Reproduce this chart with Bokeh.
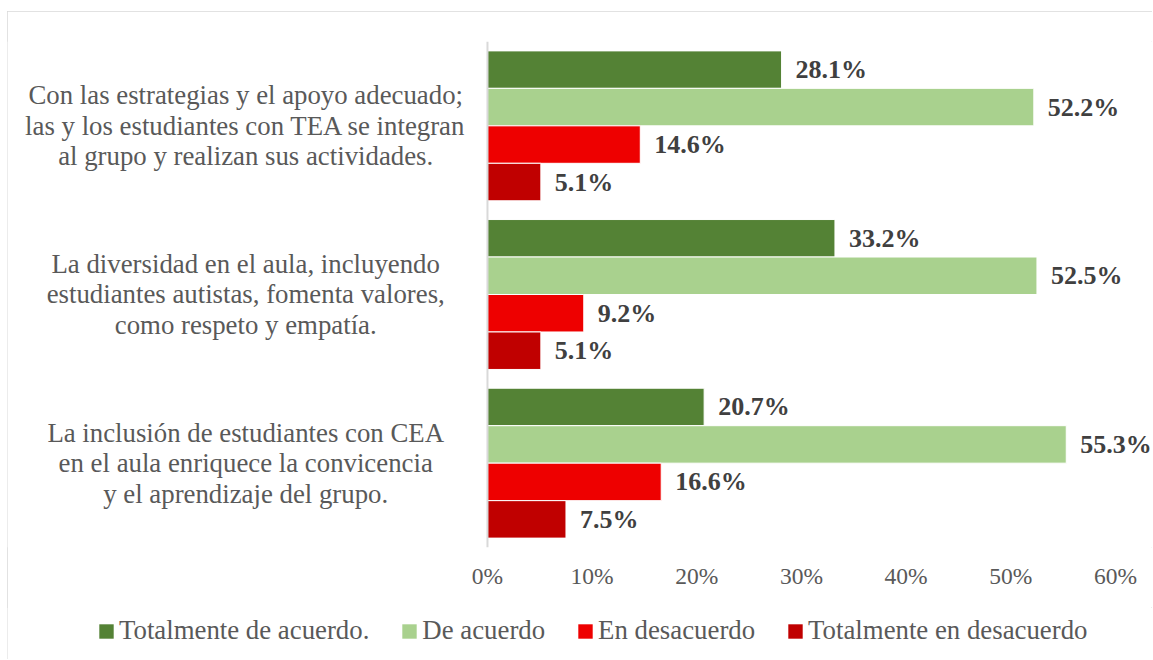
from bokeh.plotting import figure
from bokeh.layouts import column
from bokeh.models import (Range1d, FixedTicker, PrintfTickFormatter, ColumnDataSource,
                          Span, Legend, LegendItem)
from bokeh.transform import dodge
from bokeh.core.properties import value
from bokeh.embed import file_html
from bokeh.resources import INLINE

# ---- data ----
categories = [
    "Con las estrategias y el apoyo adecuado;\nlas y los estudiantes con TEA se integran\nal grupo y realizan sus actividades.",
    "La diversidad en el aula, incluyendo\nestudiantes autistas, fomenta valores,\ncomo respeto y empatía.",
    "La inclusión de estudiantes con CEA\nen el aula enriquece la convicencia\ny el aprendizaje del grupo.",
]
series_names = ["Totalmente de acuerdo.", "De acuerdo", "En desacuerdo", "Totalmente en desacuerdo"]
totalmente_de_acuerdo = [28.1, 33.2, 20.7]
de_acuerdo = [52.2, 52.5, 55.3]
en_desacuerdo = [14.6, 9.2, 16.6]
totalmente_en_desacuerdo = [5.1, 5.1, 7.5]
x_ticks = [0, 10, 20, 30, 40, 50, 60]

series_values = [totalmente_de_acuerdo, de_acuerdo, en_desacuerdo, totalmente_en_desacuerdo]
colors = ["#548235", "#A9D18E", "#EE0000", "#C00000"]

FONT = "Liberation Serif"
TEXT = "#595959"

cat_pos = [i + 0.5 for i in range(len(categories))]

# ---- main chart ----
p = figure(width=1145, height=596, output_backend="svg", toolbar_location=None,
           x_range=Range1d(-45.86, 63.54), y_range=Range1d(3, 0),
           min_border_left=0, min_border_right=0, min_border_top=30, min_border_bottom=60)
p.outline_line_color = None
p.xgrid.visible = False
p.ygrid.visible = False
p.yaxis.visible = False

bar_h = 0.2222
offsets = [(-1.5 + i) * bar_h for i in range(4)]

# vertical category axis line at 0%
p.add_layout(Span(location=0, dimension="height", line_color="#d9d9d9", line_width=2))

for name, vals, col, off in zip(series_names, series_values, colors, offsets):
    src = ColumnDataSource(dict(pos=cat_pos, v=vals, lbl=[f"{v:.1f}%" for v in vals]))
    p.hbar(y=dodge("pos", off, range=p.y_range), right="v", left=0, height=bar_h,
           source=src, fill_color=col, line_color="white", line_width=1)
    p.text(x="v", y=dodge("pos", off, range=p.y_range), text="lbl", source=src,
           x_offset=14, text_baseline="middle", text_align="left",
           text_font=value(FONT), text_font_style="bold", text_font_size="26px",
           text_color="#404040")

# category labels
cat_src = ColumnDataSource(dict(pos=cat_pos, cat=categories))
p.text(x=-23.1, y="pos", text="cat", source=cat_src, text_align="center",
       text_baseline="middle", text_font=value(FONT), text_font_size="26.8px",
       text_color=TEXT, text_line_height=1.02)

# x axis
p.xaxis.ticker = FixedTicker(ticks=x_ticks)
p.xaxis.formatter = PrintfTickFormatter(format="%d%%")
p.xaxis.axis_line_color = None
p.xaxis.major_tick_line_color = None
p.xaxis.minor_tick_line_color = None
p.xaxis.major_label_text_font = FONT
p.xaxis.major_label_text_font_size = "23.5px"
p.xaxis.major_label_text_color = TEXT
p.xaxis.major_label_standoff = 9

# ---- legend strip ----
lg = figure(width=1145, height=52, output_backend="svg", toolbar_location=None,
            x_range=Range1d(0, 1), y_range=Range1d(0, 1),
            min_border_left=0, min_border_right=0, min_border_top=0, min_border_bottom=0)
lg.outline_line_color = None
lg.xgrid.visible = False
lg.ygrid.visible = False
lg.xaxis.visible = False
lg.yaxis.visible = False

items = []
for name, vals, col in zip(series_names, series_values, colors):
    r = lg.hbar(y=cat_pos, right=vals, left=0, height=0.5, fill_color=col,
                line_color=None, visible=False)
    items.append(LegendItem(label=name, renderers=[r]))

legend = Legend(items=items, orientation="horizontal", location=(90, 13),
                glyph_width=18, glyph_height=18, label_standoff=4, spacing=31,
                padding=0, margin=0, border_line_color=None, background_fill_alpha=0,
                inactive_fill_alpha=0,
                label_text_font=FONT, label_text_font_size="26.8px", label_text_color=TEXT,
                label_height=30)
lg.add_layout(legend, "center")

layout = column(p, lg)
layout.styles = {"margin-left": "7px", "margin-top": "11px",
                 "outline": "1px solid #d9d9d9", "outline-offset": "-1px"}

open("out.html", "w").write(file_html(layout, INLINE))
